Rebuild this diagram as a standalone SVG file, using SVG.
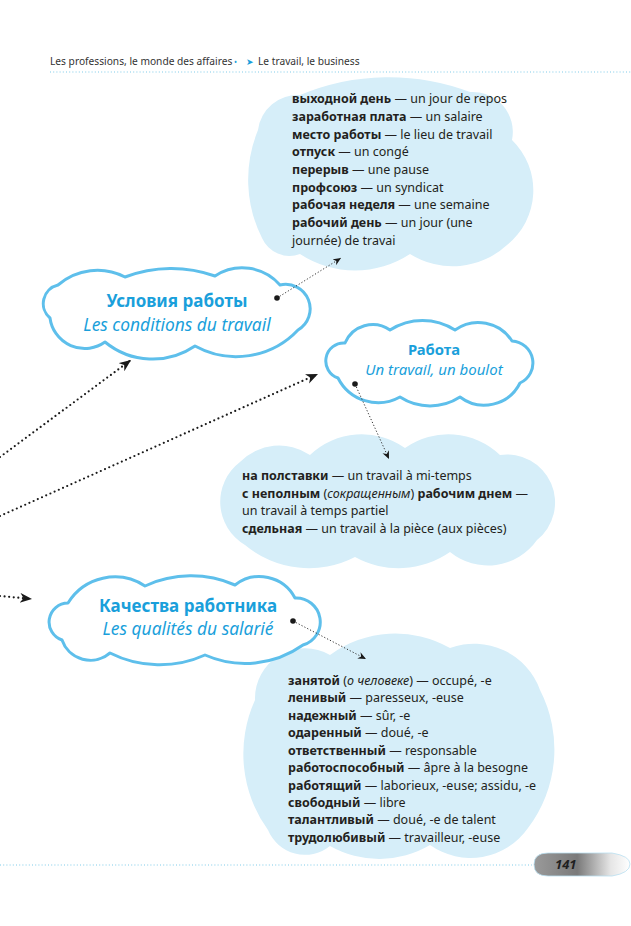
<svg xmlns="http://www.w3.org/2000/svg" width="631" height="926" viewBox="0 0 631 926">
<style>
  text { font-family: "Noto Sans", "Open Sans", sans-serif; fill: #231f20; }
  .hdr { font-size: 10.2px; fill: #333; }
  .body { font-size: 12.5px; }
  .b { font-weight: bold; }
  .i { font-style: italic; }
  .title { font-size: 17px; font-weight: bold; fill: #1a9fdb; text-anchor: middle; }
  .sub { font-size: 17.4px; font-style: italic; fill: #1a9fdb; text-anchor: middle; }
  .title.sm { font-size: 14.8px; }
  .sub.sm { font-size: 15px; }
  .light { fill: #d6eef9; stroke: none; }
  .outline { fill: #ffffff; stroke: #5ebfeb; stroke-width: 3; stroke-linejoin: round; }
  .thick { fill: none; stroke: #1a1a1a; stroke-width: 2.2; stroke-linecap: round; stroke-dasharray: 0 4.6; }
  .thin { fill: none; stroke: #333; stroke-width: 1; stroke-dasharray: 1.2 2; }
  .rule { fill: none; stroke: #7fcbe9; stroke-width: 1.2; stroke-dasharray: 1 2.2; }
</style>
<defs>
  <marker id="bigArrow" markerUnits="userSpaceOnUse" markerWidth="14" markerHeight="12" refX="12" refY="5" orient="auto">
    <path d="M0,0 L12,5 L0,10 L3.5,5 Z" fill="#1a1a1a"/>
  </marker>
  <marker id="smallArrow" markerUnits="userSpaceOnUse" markerWidth="10" markerHeight="8" refX="8" refY="3.5" orient="auto">
    <path d="M0,0 L8,3.5 L0,7 L2.5,3.5 Z" fill="#1a1a1a"/>
  </marker>
  <marker id="dot" markerUnits="userSpaceOnUse" markerWidth="8" markerHeight="8" refX="4" refY="4">
    <circle cx="4" cy="4" r="2.8" fill="#1a1a1a"/>
  </marker>
  <linearGradient id="badge" x1="0" y1="0" x2="1" y2="0">
    <stop offset="0" stop-color="#9a9a9a"/>
    <stop offset="0.45" stop-color="#7a7a7a"/>
    <stop offset="0.8" stop-color="#e6e6e6"/>
    <stop offset="1" stop-color="#ffffff"/>
  </linearGradient>
</defs>

<g id="header">
  <text class="hdr" x="50" y="65">Les professions, le monde des affaires</text>
  <text x="234" y="65" style="font-size:8px;fill:#1a9fdb">•</text>
  <text x="246" y="65" style="font-family:'DejaVu Sans',sans-serif;font-size:9px;fill:#1a9fdb">➤</text>
  <text class="hdr" x="258" y="65">Le travail, le business</text>
  <line class="rule" x1="50" y1="72" x2="631" y2="72"/>
</g>

<g id="words-conditions">
  <path class="light" d="M 262 238 A 130 130 0 0 1 258 130 A 40 40 0 0 1 300 95 A 230 230 0 0 1 470 92 A 40 40 0 0 1 512 140 A 70 70 0 0 1 507 245 A 80 80 0 0 1 410 254 A 100 100 0 0 1 300 254 A 30 30 0 0 1 262 238 Z"/>
  <text class="body" x="292" y="103"><tspan class="b">выходной день</tspan> — un jour de repos</text>
  <text class="body" x="292" y="121"><tspan class="b">заработная плата</tspan> — un salaire</text>
  <text class="body" x="292" y="139"><tspan class="b">место работы</tspan> — le lieu de travail</text>
  <text class="body" x="292" y="156"><tspan class="b">отпуск</tspan> — un congé</text>
  <text class="body" x="292" y="174"><tspan class="b">перерыв</tspan> — une pause</text>
  <text class="body" x="292" y="192"><tspan class="b">профсоюз</tspan> — un syndicat</text>
  <text class="body" x="292" y="209"><tspan class="b">рабочая неделя</tspan> — une semaine</text>
  <text class="body" x="292" y="227"><tspan class="b">рабочий день</tspan> — un jour (une</text>
  <text class="body" x="292" y="245">journée) de travai</text>
</g>

<g id="words-job">
  <path class="light" d="M 245 545 A 50 50 0 0 1 240 462 A 55 55 0 0 1 310 455 A 75 75 0 0 1 405 448 A 75 75 0 0 1 500 455 A 48 48 0 0 1 537 540 A 60 60 0 0 1 450 552 A 90 90 0 0 1 355 557 A 100 100 0 0 1 245 545 Z"/>
  <text class="body" x="242" y="480"><tspan class="b">на полставки</tspan> — un travail à mi-temps</text>
  <text class="body" x="242" y="498"><tspan class="b">с неполным</tspan> (<tspan class="i">сокращенным</tspan>) <tspan class="b">рабочим днем</tspan> —</text>
  <text class="body" x="242" y="515">un travail à temps partiel</text>
  <text class="body" x="242" y="533"><tspan class="b">сдельная</tspan> — un travail à la pièce (aux pièces)</text>
</g>

<g id="words-qualities">
  <path class="light" d="M 268 830 A 130 130 0 0 1 255 700 A 50 50 0 0 1 330 655 A 110 110 0 0 1 450 648 A 70 70 0 0 1 540 690 A 130 130 0 0 1 528 828 A 70 70 0 0 1 430 845 A 100 100 0 0 1 330 846 A 40 40 0 0 1 268 830 Z"/>
  <text class="body" x="288" y="685"><tspan class="b">занятой</tspan> (<tspan class="i">о человеке</tspan>) — occupé, -e</text>
  <text class="body" x="288" y="702"><tspan class="b">ленивый</tspan> — paresseux, -euse</text>
  <text class="body" x="288" y="720"><tspan class="b">надежный</tspan> — sûr, -e</text>
  <text class="body" x="288" y="737"><tspan class="b">одаренный</tspan> — doué, -e</text>
  <text class="body" x="288" y="755"><tspan class="b">ответственный</tspan> — responsable</text>
  <text class="body" x="288" y="772"><tspan class="b">работоспособный</tspan> — âpre à la besogne</text>
  <text class="body" x="288" y="790"><tspan class="b">работящий</tspan> — laborieux, -euse; assidu, -e</text>
  <text class="body" x="288" y="807"><tspan class="b">свободный</tspan> — libre</text>
  <text class="body" x="288" y="824"><tspan class="b">талантливый</tspan> — doué, -e de talent</text>
  <text class="body" x="288" y="842"><tspan class="b">трудолюбивый</tspan> — travailleur, -euse</text>
</g>

<g id="node-conditions">
  <path class="outline" d="M 50 318 A 19 19 0 0 1 58 285 A 60 60 0 0 1 125 277 A 130 130 0 0 1 215 276 A 50 50 0 0 1 280 285 A 24.5 24.5 0 0 1 298 330 A 85 85 0 0 1 195 346 A 75 75 0 0 1 105 342 A 35 35 0 0 1 50 318 Z"/>
  <text class="title" x="177" y="307">Условия работы</text>
  <text class="sub" x="177" y="331">Les conditions du travail</text>
</g>

<g id="node-job">
  <path class="outline" d="M 338 378 A 18 18 0 0 1 345 343 A 30 30 0 0 1 390 330 A 60 60 0 0 1 455 330 A 40 40 0 0 1 512 341 A 22 22 0 0 1 520 383 A 40 40 0 0 1 460 397 A 55 55 0 0 1 400 397 A 45 45 0 0 1 338 378 Z"/>
  <text class="title sm" x="434" y="355">Работа</text>
  <text class="sub sm" x="434" y="375">Un travail, un boulot</text>
</g>

<g id="node-qualities">
  <path class="outline" d="M 62 640 A 19 19 0 0 1 68 603 A 55 55 0 0 1 145 586 A 110 110 0 0 1 235 585 A 40 40 0 0 1 295 598 A 24 24 0 0 1 303 645 A 100 100 0 0 1 205 655 A 110 110 0 0 1 110 653 A 30 30 0 0 1 62 640 Z"/>
  <text class="title" x="188" y="612">Качества работника</text>
  <text class="sub" x="188" y="635">Les qualités du salarié</text>
</g>

<g id="connectors">
  <path class="thick" d="M 0 457 L 131 360" marker-end="url(#bigArrow)"/>
  <path class="thick" d="M 0 516 L 318 374" marker-end="url(#bigArrow)"/>
  <path class="thick" d="M 0 596 L 32 599" marker-end="url(#bigArrow)"/>
  <path class="thin" d="M 277 298 L 341 258" marker-start="url(#dot)" marker-end="url(#smallArrow)"/>
  <path class="thin" d="M 355 384 L 389 459" marker-start="url(#dot)" marker-end="url(#smallArrow)"/>
  <path class="thin" d="M 293 621 L 366 659" marker-start="url(#dot)" marker-end="url(#smallArrow)"/>
</g>

<g id="footer">
  <line class="rule" x1="0" y1="865" x2="532" y2="865"/>
  <path d="M 548 853 L 612 853 Q 630 856 630 864 Q 630 873 612 876 L 548 876 Q 534 876 534 864.5 Q 534 853 548 853 Z" fill="url(#badge)" stroke="#b9dff1" stroke-width="0.8"/>
  <text x="555" y="869" style="font-size:13px;font-weight:bold;font-style:italic;fill:#1f1f1f">141</text>
</g>
</svg>
